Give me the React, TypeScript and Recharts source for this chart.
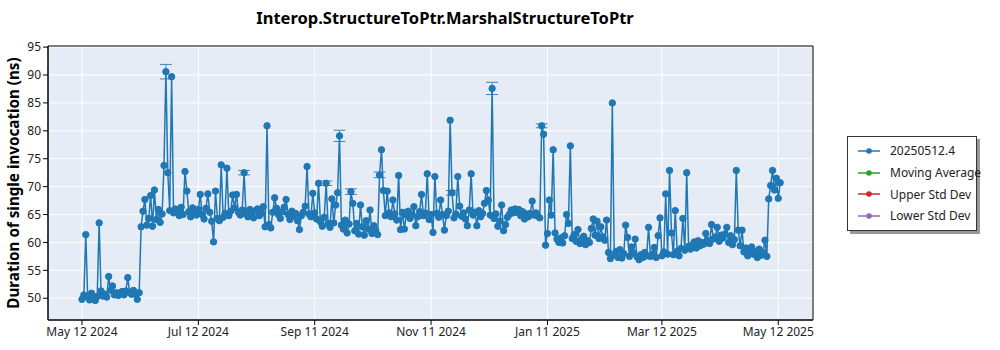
import React from 'react';
import { LineChart, Line, XAxis, YAxis, CartesianGrid, ErrorBar, ReferenceArea } from 'recharts';

// x = days since May 12 2024, one run per day
const tickDays = [0, 61, 122, 183, 244, 304, 365];
const tickLabels = ['May 12 2024', 'Jul 12 2024', 'Sep 11 2024', 'Nov 11 2024', 'Jan 11 2025', 'Mar 12 2025', 'May 12 2025'];
const yTicks = [50, 55, 60, 65, 70, 75, 80, 85, 90, 95];
const yMinorTicks = [47, 48, 49, 51, 52, 53, 54, 56, 57, 58, 59, 61, 62, 63, 64, 66, 67, 68, 69,
  71, 72, 73, 74, 76, 77, 78, 79, 81, 82, 83, 84, 86, 87, 88, 89, 91, 92, 93, 94];

// duration (ns) for each day
const durations = [
  49.8, 50.6, 61.4, 50.2, 49.7, 50.9, 50.0, 49.6, 50.3, 63.5,
  51.3, 50.4, 50.7, 50.2, 53.9, 51.4, 52.2, 50.6, 51.0, 50.5,
  50.9, 51.2, 50.6, 51.3, 53.7, 51.0, 50.7, 51.4, 50.8, 49.8,
  51.0, 62.8, 65.6, 67.7, 63.1, 64.3, 68.4, 62.9, 69.4, 64.1,
  65.9, 63.6, 65.1, 73.8, 90.6, 72.5, 65.7, 89.7, 65.3, 66.0,
  65.4, 64.8, 66.3, 65.0, 72.7, 69.2, 65.5, 64.6, 66.2, 65.3,
  64.9, 65.9, 68.6, 65.0, 64.2, 66.1, 68.7, 65.4, 63.8, 60.1,
  69.2, 64.3, 63.9, 73.9, 64.5, 65.2, 73.3, 64.8, 65.6, 68.5,
  66.2, 68.6, 65.4, 64.9, 65.8, 72.5, 65.1, 64.6, 65.9, 65.2,
  64.4, 65.7, 66.0, 64.8, 65.3, 66.4, 62.8, 80.9, 63.2, 62.6,
  65.4, 68.0, 66.1, 65.0, 64.3, 65.5, 66.3, 67.7, 65.0, 64.1,
  65.6, 64.7, 65.2, 63.9, 62.3, 64.8, 65.4, 66.5, 73.6, 65.1,
  64.6, 68.8, 65.3, 64.2, 70.6, 63.7, 62.9, 64.5, 70.6, 63.4,
  62.7, 67.8, 63.5, 66.7, 68.9, 79.1, 63.1, 62.4, 64.0, 61.7,
  63.3, 69.1, 67.0, 62.1, 63.4, 61.5, 66.7, 62.8, 61.3, 63.9,
  62.4, 65.8, 61.6, 63.0, 62.2, 61.4, 72.1, 76.6, 69.3, 64.8,
  69.2, 65.3, 64.6, 67.6, 65.1, 64.0, 72.0, 62.3, 65.4, 62.4,
  64.9, 65.6, 64.3, 65.0, 66.4, 63.0, 64.6, 65.5, 68.6, 64.8,
  65.3, 72.3, 64.1, 65.0, 61.8, 71.8, 65.2, 64.5, 67.6, 65.0,
  62.2, 64.8, 65.6, 81.9, 68.9, 64.4, 65.1, 71.8, 66.5, 64.7,
  65.3, 64.2, 63.0, 65.8, 72.3, 64.9, 65.4, 63.0, 65.7, 64.6,
  65.2, 67.0, 69.3, 67.6, 64.9, 87.6, 64.3, 65.1, 62.9, 63.8,
  66.7, 62.1, 63.2, 64.5, 65.0, 65.8, 65.3, 66.0, 65.4, 65.9,
  64.8, 65.5, 64.2, 65.1, 64.6, 65.2, 67.4, 64.9, 65.3, 64.7,
  64.4, 80.9, 79.4, 59.5, 61.6, 67.6, 64.9, 76.6, 61.7, 60.6,
  60.0, 60.8, 59.9, 61.2, 65.0, 63.4, 77.3, 60.7, 61.4, 60.2,
  62.3, 59.8, 60.5, 61.1, 59.6, 60.3, 60.0, 62.5, 64.2, 61.3,
  63.8, 60.7, 62.8, 61.0, 60.4, 64.0, 58.2, 57.1, 85.0, 57.8,
  58.4, 57.3, 58.7, 57.2, 58.0, 63.1, 60.9, 57.5, 59.2, 58.1,
  60.6, 57.4, 56.9, 57.8, 57.3, 58.2, 57.6, 62.7, 57.5, 57.9,
  59.1, 57.3, 61.2, 64.4, 57.6, 58.3, 68.7, 57.9, 72.9, 61.7,
  57.8, 65.7, 58.4, 57.6, 58.9, 64.3, 58.6, 72.5, 59.3, 58.8,
  59.6, 60.1, 59.0, 60.3, 59.4, 60.0, 59.7, 61.6, 60.4, 59.8,
  63.2, 60.6, 61.0, 62.7, 60.2, 61.3, 60.8, 61.5, 62.7, 60.0,
  61.2, 59.6, 60.5, 72.9, 62.2, 59.4, 62.2, 58.3, 59.0, 57.6,
  58.5, 59.2, 57.9, 58.4, 57.3, 58.8, 57.7, 58.2, 60.4, 57.5,
  67.8, 70.2, 72.9, 69.4, 71.5, 67.9, 70.7,
];

// days with a visible error bar and its half-size (ns)
const errorDays = [44, 85, 128, 135, 141, 156, 194, 215, 241];
const errorSizes = [1.3, 0.4, 0.4, 1.0, 0.5, 0.5, 0.4, 1.1, 0.35];

// legend entries (only the first series has points)
const seriesNames = ['20250512.4', 'Moving Average', 'Upper Std Dev', 'Lower Std Dev'];
const seriesColors = ['#1f77b4', '#2ca02c', '#d62728', '#9467bd'];

const data = durations.map((v, i) => {
  const k = errorDays.indexOf(i);
  return { day: i, value: v, err: k >= 0 ? errorSizes[k] : null };
});

const font = '"Noto Sans", "Open Sans", sans-serif';

const AxisTitle = (props: any) => {
  const { viewBox } = props;
  const cy = viewBox.y + viewBox.height / 2;
  return (
    <text x={19} y={cy} transform={`rotate(-90, 19, ${cy})`} textAnchor="middle"
      style={{ fontFamily: font, fontSize: 15.2, fontWeight: 700, fill: '#000' }}>
      Duration of single invocation (ns)
    </text>
  );
};

export default function App() {
  return (
    <div style={{ position: 'absolute', left: 0, top: 0, width: 1000, height: 350, background: '#fff' }}>
      <div style={{
        position: 'absolute', left: 0, top: 6, width: 890, textAlign: 'center',
        fontFamily: font, fontSize: 16.5, fontWeight: 700, color: '#000',
      }}>
        Interop.StructureToPtr.MarshalStructureToPtr
      </div>
      <LineChart width={1000} height={350} data={data}
        margin={{ top: 46, right: 187, bottom: 0, left: 0 }}>
        <CartesianGrid fill="#e5ecf6" stroke="#ffffff" strokeWidth={1} />
        <XAxis dataKey="day" type="number" domain={[-17.8, 383.2]} allowDataOverflow
          ticks={tickDays} interval={0} tickFormatter={(d: number) => tickLabels[tickDays.indexOf(d)]}
          height={30} tickSize={5} stroke="#000"
          tick={{ fill: '#222', fontSize: 12, fontFamily: font }} />
        <YAxis yAxisId="minor" type="number" domain={[46.1, 95.2]} allowDataOverflow
          ticks={yMinorTicks} interval={0} width={0} tickSize={2.5} stroke="#000"
          axisLine={false} tick={false} />
        <YAxis type="number" domain={[46.1, 95.2]} allowDataOverflow ticks={yTicks} interval={0}
          width={48} tickSize={5} stroke="#000"
          tick={{ fill: '#222', fontSize: 12, fontFamily: font }}
          label={<AxisTitle />} />
        <ReferenceArea x1={-17.8} x2={383.2} y1={46.1} y2={95.2} fill="none" stroke="#000" strokeWidth={1} ifOverflow="visible" />
        <Line dataKey="value" name={seriesNames[0]} stroke={seriesColors[0]} strokeWidth={1.5}
          dot={{ r: 3.2, fill: seriesColors[0], stroke: seriesColors[0], strokeWidth: 1 }}
          isAnimationActive={false}>
          <ErrorBar dataKey="err" direction="y" width={6} stroke="#3a86c2" strokeWidth={1} isAnimationActive={false} />
        </Line>
      </LineChart>
      <div style={{
        position: 'absolute', left: 847, top: 136, width: 128, padding: '3px 0',
        border: '1px solid #333', background: '#fff', boxShadow: '3px 3px 0 #999',
        fontFamily: font, fontSize: 12, color: '#222',
      }}>
        {seriesNames.map((name, i) => (
          <div key={name} style={{ display: 'flex', alignItems: 'center', height: 21.7 }}>
            <svg width={34} height={10} style={{ marginLeft: 8, flex: 'none' }}>
              <line x1={2} y1={5} x2={24} y2={5} stroke={seriesColors[i]} strokeWidth={1.5} />
              <circle cx={13} cy={5} r={2.8} fill={seriesColors[i]} />
            </svg>
            <span style={{ whiteSpace: 'nowrap' }}>{name}</span>
          </div>
        ))}
      </div>
    </div>
  );
}
